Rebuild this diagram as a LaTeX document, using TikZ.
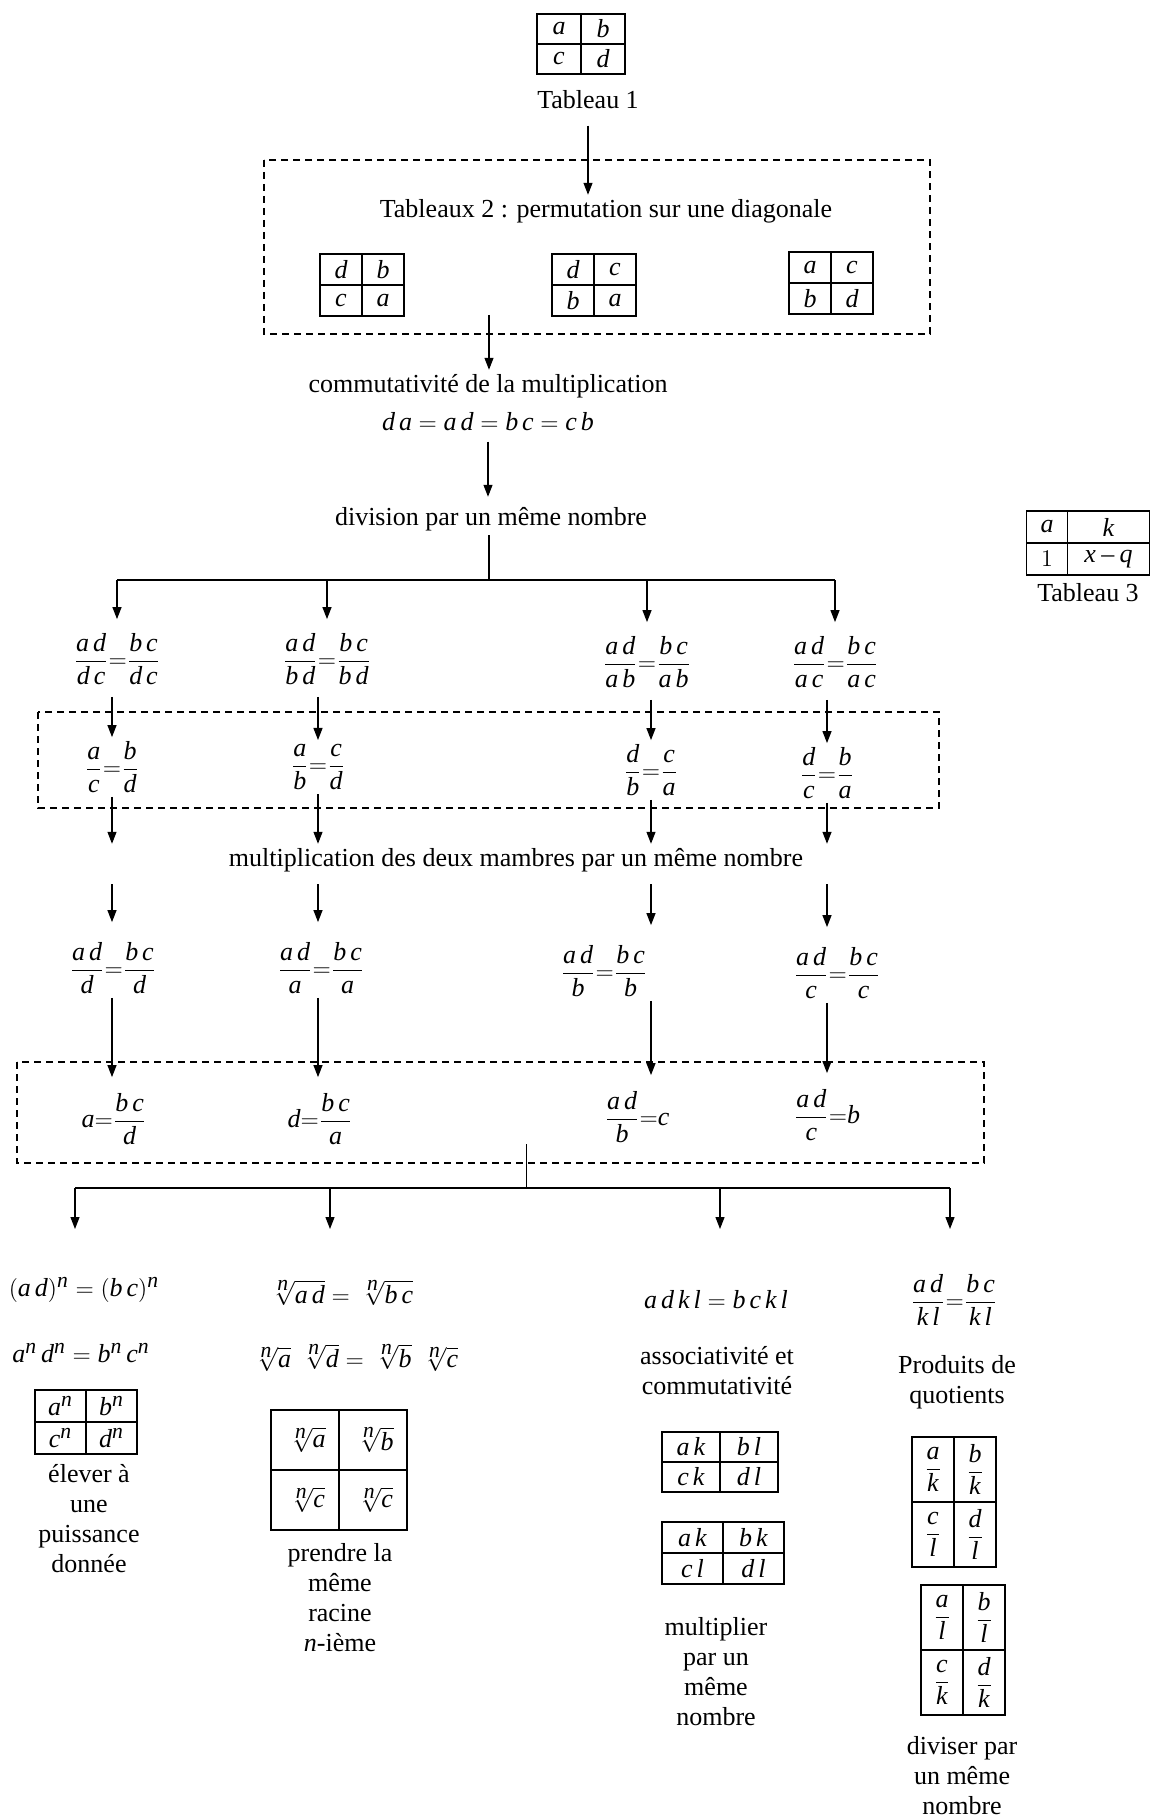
\documentclass[tikz,border=0pt]{standalone}
\usepackage{fontspec}
\setmainfont{Liberation Serif}
\usepackage{amsmath}
\usepackage[italic]{mathastext}
\usetikzlibrary{arrows.meta,positioning,matrix}
\newcommand{\rt}[1]{\,\sqrt[\scriptstyle n]{#1}}

\begin{document}
\begin{tikzpicture}[
  x=0.5pt, y=-0.5pt,
  font=\fontsize{13}{15}\selectfont,
  txt/.style={align=center, inner sep=2pt},
  eq/.style={inner sep=2pt},
  tabl/.style 2 args={matrix of math nodes, line width=0.8pt,
    column sep=-0.8pt, row sep=-0.8pt,
    nodes={draw, anchor=center, minimum width=#1, minimum height=#2,
      inner sep=0pt}},
  arrow/.style={-{Triangle[length=6pt,width=4.5pt]}, line width=0.6pt},
  branch/.style={line width=0.9pt},
  dashbox/.style={dash pattern=on 3.5pt off 2.5pt, line width=0.75pt}
]
  \useasboundingbox (0,0) rectangle (1151,1818);
  % Tableau 1 and Tableau 3
  \matrix[tabl={22pt}{15pt}] (tab1) at (581,44) {a & b\\ c & d\\};
  \node[txt] (lab1) at (588,100) {Tableau 1};
  \matrix[tabl={20.5pt}{16pt}, column 2/.style={nodes={minimum width=41pt}}]
    (tab3) at (1088,543) {a & k\\ 1 & x-q\\};
  \node[txt] (lab3) at (1088,593) {Tableau 3};
  % Tableaux 2
  \draw[dashbox] (264,160) rectangle (930,334);
  \node[txt] (perm) at (606,211) {Tableaux 2 : permutation sur une diagonale};
  \matrix[tabl={21pt}{15.5pt}] (tab2a) at (362,285) {d & b\\ c & a\\};
  \matrix[tabl={21pt}{15.5pt}] (tab2b) at (594,285) {d & c\\ b & a\\};
  \matrix[tabl={21pt}{15.5pt}] (tab2c) at (831,283) {a & c\\ b & d\\};
  \coordinate (out1) at (489,315);
  \node[txt] (comm) at (488,386) {commutativité de la multiplication};
  \node[eq] (prod) at (488,422) {$d\,a = a\,d = b\,c = c\,b$};
  \node[txt] (div) at (491,519) {division par un même nombre};
  \coordinate (split1) at (489,580);
  % Division rows
  \node[eq] (r1a) at (117,659) {$\dfrac{a\,d}{d\,c}{=}\dfrac{b\,c}{d\,c}$};
  \node[eq] (r1b) at (327,659) {$\dfrac{a\,d}{b\,d}{=}\dfrac{b\,c}{b\,d}$};
  \node[eq] (r1c) at (647,662) {$\dfrac{a\,d}{a\,b}{=}\dfrac{b\,c}{a\,b}$};
  \node[eq] (r1d) at (835,662) {$\dfrac{a\,d}{a\,c}{=}\dfrac{b\,c}{a\,c}$};
  \draw[dashbox] (38,712) rectangle (939,808);
  \node[eq] (r2a) at (112,767) {$\dfrac{a}{c}{=}\dfrac{b}{d}$};
  \node[eq] (r2b) at (318,767) {$\dfrac{a}{b}{=}\dfrac{c}{d}$};
  \node[eq] (r2c) at (651,770) {$\dfrac{d}{b}{=}\dfrac{c}{a}$};
  \node[eq] (r2d) at (827,773) {$\dfrac{d}{c}{=}\dfrac{b}{a}$};
  \node[txt] (mult) at (516,860)
    {multiplication des deux mambres par un même nombre};
  \node[eq] (r3a) at (113,968) {$\dfrac{a\,d}{d}{=}\dfrac{b\,c}{d}$};
  \node[eq] (r3b) at (321,968) {$\dfrac{a\,d}{a}{=}\dfrac{b\,c}{a}$};
  \node[eq] (r3c) at (604,971) {$\dfrac{a\,d}{b}{=}\dfrac{b\,c}{b}$};
  \node[eq] (r3d) at (837,973) {$\dfrac{a\,d}{c}{=}\dfrac{b\,c}{c}$};
  \draw[dashbox] (17,1062) rectangle (984,1163);
  \node[eq] (r4a) at (114,1119) {$a{=}\dfrac{b\,c}{d}$};
  \node[eq] (r4b) at (320,1119) {$d{=}\dfrac{b\,c}{a}$};
  \node[eq] (r4c) at (637,1117) {$\dfrac{a\,d}{b}{=}c$};
  \node[eq] (r4d) at (827,1115) {$\dfrac{a\,d}{c}{=}b$};
  \coordinate (out3) at (526,1144);
  \coordinate (split2) at (526,1188);
  \coordinate (e1) at (75,1229);
  \coordinate (e2) at (330,1229);
  \coordinate (e3) at (720,1229);
  \coordinate (e4) at (950,1229);
  % Bottom columns
  \node[eq] (p1) at (84,1290) {$(a\,d)^n = (b\,c)^n$};
  \node[eq] (p2) at (81,1353) {$a^n\,d^n = b^n\,c^n$};
  \matrix[tabl={25.5pt}{16pt}] (ptab) at (86,1422) {a^n & b^n\\ c^n & d^n\\};
  \node[txt] (plab) at (89,1519) {élever à\\une\\puissance\\donnée};
  \node[eq] (q1) at (340,1293) {$\rt{a\,d} = \rt{b\,c}$};
  \node[eq] (q2) at (354,1358) {$\rt{a}\;\rt{d} = \rt{b}\;\rt{c}$};
  \matrix[tabl={34pt}{30pt}] (qtab) at (339,1470)
    {\rt{a} & \rt{b}\\ \rt{c} & \rt{c}\\};
  \node[txt] (qlab) at (340,1598) {prendre la\\même\\racine\\$n$-ième};
  \node[eq] (s1) at (716,1300) {$a\,d\,k\,l = b\,c\,k\,l$};
  \node[txt] (s2) at (717,1371) {associativité et\\commutativité};
  \matrix[tabl={29pt}{15pt}] (stab1) at (720,1462)
    {a\,k & b\,l\\ c\,k & d\,l\\};
  \matrix[tabl={30.5pt}{15.5pt}] (stab2) at (723,1553)
    {a\,k & b\,k\\ c\,l & d\,l\\};
  \node[txt] (s3) at (716,1672) {multiplier\\par un\\même\\nombre};
  \node[eq] (u1) at (954,1300) {$\dfrac{a\,d}{k\,l}{=}\dfrac{b\,c}{k\,l}$};
  \node[txt] (u2) at (957,1382) {Produits de\\quotients};
  \matrix[tabl={21pt}{32.5pt}] (utab1) at (954,1502)
    {\dfrac{a}{k} & \dfrac{b}{k}\\ \dfrac{c}{l} & \dfrac{d}{l}\\};
  \matrix[tabl={21pt}{32.5pt}] (utab2) at (963,1650)
    {\dfrac{a}{l} & \dfrac{b}{l}\\ \dfrac{c}{k} & \dfrac{d}{k}\\};
  \node[txt] (u3) at (962,1776) {diviser par\\un même\\nombre};
  % Arrows
  \draw[arrow, shorten <=6pt] (lab1.south) -- (lab1.south |- perm.north);
  \draw[arrow] (out1) -- (out1 |- comm.north);
  \draw[arrow, shorten <=3pt, shorten >=3pt] (prod.south) -- (prod.south |- div.north);
  \draw[branch] (div.south -| split1) -- (split1);
  \draw[branch] (r1a |- split1) -- (r1d |- split1);
  \draw[arrow, shorten >=5pt] (r1a |- split1) -- (r1a.north);
  \draw[arrow, shorten >=5pt] (r1b |- split1) -- (r1b.north);
  \draw[arrow, shorten >=5pt] (r1c |- split1) -- (r1c.north);
  \draw[arrow, shorten >=5pt] (r1d |- split1) -- (r1d.north);
  \draw[arrow, shorten <=4pt] (r1a.south -| r2a) -- (r2a.north);
  \draw[arrow, shorten <=4pt] (r1b.south -| r2b) -- (r2b.north);
  \draw[arrow, shorten <=4pt] (r1c.south -| r2c) -- (r2c.north);
  \draw[arrow, shorten <=4pt] (r1d.south -| r2d) -- (r2d.north);
  \draw[arrow] (r2a.south) -- (r2a.south |- mult.north);
  \draw[arrow] (r2b.south) -- (r2b.south |- mult.north);
  \draw[arrow] (r2c.south) -- (r2c.south |- mult.north);
  \draw[arrow] (r2d.south) -- (r2d.south |- mult.north);
  \draw[arrow, shorten <=4pt, shorten >=8pt] (mult.south -| r2a) -- (r3a.north -| r2a);
  \draw[arrow, shorten <=4pt, shorten >=8pt] (mult.south -| r2b) -- (r3b.north -| r2b);
  \draw[arrow, shorten <=4pt, shorten >=8pt] (mult.south -| r2c) -- (r3c.north -| r2c);
  \draw[arrow, shorten <=4pt, shorten >=8pt] (mult.south -| r2d) -- (r3d.north -| r2d);
  \draw[arrow, shorten >=6pt] (r3a.south -| r2a) -- (r4a.north -| r2a);
  \draw[arrow, shorten >=6pt] (r3b.south -| r2b) -- (r4b.north -| r2b);
  \draw[arrow, shorten >=6pt] (r3c.south -| r2c) -- (r4c.north -| r2c);
  \draw[arrow, shorten >=6pt] (r3d.south -| r2d) -- (r4d.north -| r2d);
  \draw (out3) -- (split2);
  \draw[branch] (e1 |- split2) -- (e4 |- split2);
  \draw[arrow] (e1 |- split2) -- (e1);
  \draw[arrow] (e2 |- split2) -- (e2);
  \draw[arrow] (e3 |- split2) -- (e3);
  \draw[arrow] (e4 |- split2) -- (e4);
\end{tikzpicture}
\end{document}
